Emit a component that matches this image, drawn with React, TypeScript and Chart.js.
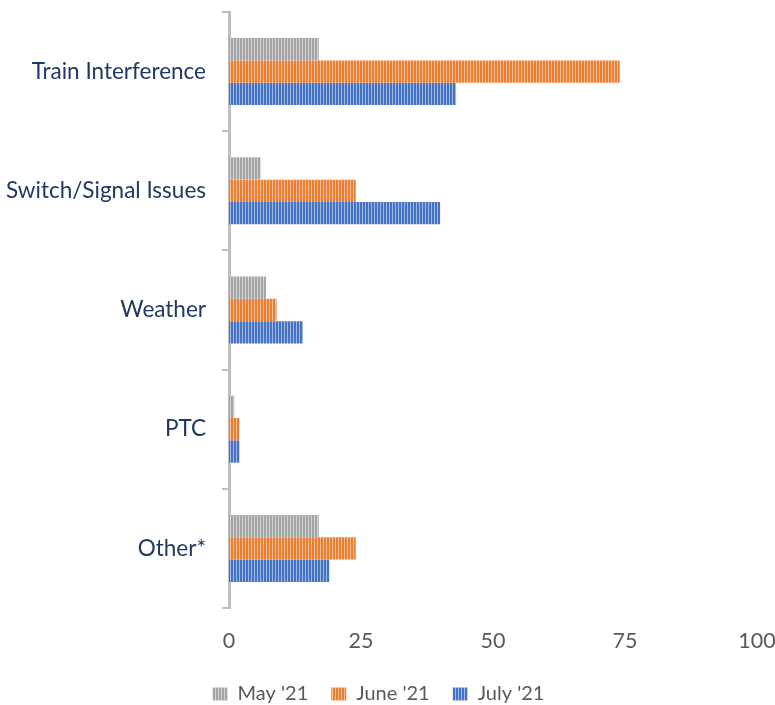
import React, { useEffect, useRef } from 'react';
import { Chart, registerables } from 'chart.js';
Chart.register(...registerables);

const categories = ['Train Interference', 'Switch/Signal Issues', 'Weather', 'PTC', 'Other*'];
const seriesNames = ["May '21", "June '21", "July '21"];
const may21 = [17, 6, 7, 1, 17];
const june21 = [74, 24, 9, 2, 24];
const july21 = [43, 40, 14, 2, 19];
const xTicks = [0, 25, 50, 75, 100];

const W = 775;
const H = 714;

if (typeof document !== 'undefined') {
  document.body.style.margin = '0';
}

function stripe(color: string, light: string): CanvasPattern | string {
  const c = document.createElement('canvas');
  c.width = 3;
  c.height = 4;
  const ctx = c.getContext('2d');
  if (!ctx) return color;
  ctx.fillStyle = color;
  ctx.fillRect(0, 0, 3, 4);
  ctx.fillStyle = light;
  ctx.fillRect(2, 0, 1, 4);
  return ctx.createPattern(c, 'repeat') || color;
}

export default function App() {
  const ref = useRef<HTMLCanvasElement | null>(null);
  useEffect(() => {
    if (!ref.current) return;
    document.body.style.margin = '0';
    const gray = stripe('#a5a5a5', '#d2d2d2');
    const orange = stripe('#ed7d31', '#f6be98');
    const blue = stripe('#4472c4', '#a2b9e2');
    const chart = new Chart(ref.current, {
      type: 'bar',
      data: {
        labels: categories,
        datasets: [
          { label: seriesNames[0], data: may21, backgroundColor: gray as any, borderWidth: 0 },
          { label: seriesNames[1], data: june21, backgroundColor: orange as any, borderWidth: 0 },
          { label: seriesNames[2], data: july21, backgroundColor: blue as any, borderWidth: 0 },
        ],
      },
      options: {
        indexAxis: 'y',
        responsive: false,
        animation: false,
        devicePixelRatio: 1,
        layout: { autoPadding: false, padding: { top: 12, right: 18, left: 0, bottom: 0 } },
        datasets: { bar: { categoryPercentage: 0.562, barPercentage: 1 } },
        scales: {
          x: {
            min: 0,
            max: 100,
            afterFit: (s: any) => {
              s.height = 53;
              s.paddingLeft = 0;
              s.paddingRight = 0;
              s.paddingTop = 0;
              s.paddingBottom = 0;
            },
            afterBuildTicks: (s: any) => { s.ticks = xTicks.map((v) => ({ value: v })); },
            grid: { display: false, drawTicks: false },
            border: { display: false },
            ticks: {
              color: '#595959',
              font: { family: 'Lato', size: 21.5 },
              padding: 20,
            },
          },
          y: {
            afterFit: (s: any) => {
              s.width = 229;
              s.paddingLeft = 0;
              s.paddingRight = 0;
              s.paddingTop = 0;
              s.paddingBottom = 0;
            },
            grid: {
              drawOnChartArea: false,
              drawTicks: true,
              tickLength: 7,
              color: '#bfbfbf',
              lineWidth: 2,
            },
            border: { display: true, color: '#bfbfbf', width: 3 },
            ticks: {
              color: '#203864',
              font: { family: 'Lato', size: 22.5 },
              padding: 16,
            },
          },
        },
        plugins: {
          legend: {
            position: 'bottom',
            labels: {
              color: '#595959',
              font: { family: 'Lato', size: 20 },
              boxWidth: 15,
              boxHeight: 13,
              padding: 23,
            },
          },
          tooltip: { enabled: false },
        },
      },
    });
    return () => chart.destroy();
  }, []);
  return (
    <div style={{ width: W, height: 705, overflow: 'hidden', position: 'relative' }}>
      <canvas ref={ref} width={W} height={H} style={{ display: 'block' }} />
    </div>
  );
}
